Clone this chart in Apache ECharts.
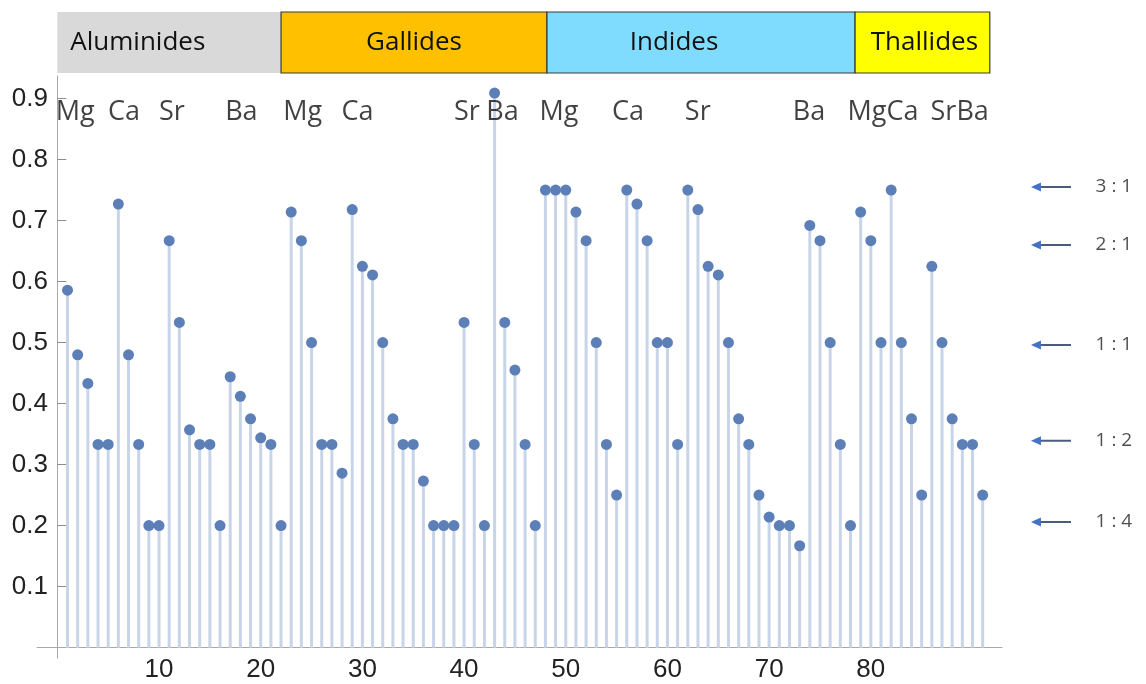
<!DOCTYPE html>
<html>
<head>
<meta charset="utf-8">
<script src="https://cdn.jsdelivr.net/npm/echarts@6/dist/echarts.min.js"></script>
<style>
html,body{margin:0;padding:0;background:#fff;}
#chart{width:1146px;height:684px;}
</style>
</head>
<body>
<div id="chart"></div>
<script>
// ---- data ----
const ratioValues = [
  0.586, 0.48, 0.433, 0.333, 0.333, 0.727, 0.48, 0.333, 0.2, 0.2,
  0.667, 0.533, 0.357, 0.333, 0.333, 0.2, 0.444, 0.412, 0.375, 0.344,
  0.333, 0.2, 0.714, 0.667, 0.5, 0.333, 0.333, 0.286, 0.718, 0.625,
  0.611, 0.5, 0.375, 0.333, 0.333, 0.273, 0.2, 0.2, 0.2, 0.533,
  0.333, 0.2, 0.909, 0.533, 0.455, 0.333, 0.2, 0.75, 0.75, 0.75,
  0.714, 0.667, 0.5, 0.333, 0.25, 0.75, 0.727, 0.667, 0.5, 0.5,
  0.333, 0.75, 0.718, 0.625, 0.611, 0.5, 0.375, 0.333, 0.25, 0.214,
  0.2, 0.2, 0.167, 0.692, 0.667, 0.5, 0.333, 0.2, 0.714, 0.667,
  0.5, 0.75, 0.5, 0.375, 0.25, 0.625, 0.5, 0.375, 0.333, 0.333,
  0.25
];
const xTickValues = [10, 20, 30, 40, 50, 60, 70, 80];
const yTickValues = [0.1, 0.2, 0.3, 0.4, 0.5, 0.6, 0.7, 0.8, 0.9];

const familyNames = ['Aluminides', 'Gallides', 'Indides', 'Thallides'];
const familyStart = [0, 22, 48.15, 78.45];
const familyEnd = [22, 48.15, 78.45, 91.7];

const elementNames = ['Mg', 'Ca', 'Sr', 'Ba', 'Mg', 'Ca', 'Sr', 'Ba', 'Mg', 'Ca', 'Sr', 'Ba', 'MgCa', 'SrBa'];
const elementX = [1.75, 6.55, 11.26, 18.1, 24.12, 29.53, 40.27, 43.77, 49.34, 56.13, 62.98, 73.92, 81.2, 88.74];
const elementY = 0.877;

const ratioNames = ['3 : 1', '2 : 1', '1 : 1', '1 : 2', '1 : 4'];
const ratioLevels = [0.755, 0.66, 0.496, 0.339, 0.206];

// ---- styles ----
const familyColors = ['#d9d9d9', '#ffc000', '#80dcff', '#ffff00'];
const familyBorders = [null, '#3a3a3a', '#3a3a3a', '#3a3a3a'];
const familyLabelPos = ['insideLeft', 'inside', 'inside', 'inside'];
const familyLabelOffset = [[8, 0], [0, 0], [-27, 0], [2, 0]];

const X_MIN = -2, X_MAX = 92.9, Y_MIN = -0.017, Y_MAX = 0.937;
const textFont = '"Open Sans", "Noto Sans", sans-serif';
const tickFont = '"Liberation Sans", Arial, sans-serif';

const points = ratioValues.map((v, i) => [i + 1, v]);

const chart = echarts.init(document.getElementById('chart'), null, {renderer: 'canvas'});
chart.setOption({
  animation: false,
  backgroundColor: '#ffffff',
  grid: [
    {left: 37, right: 144, top: 76, bottom: 26, containLabel: false, outerBoundsMode: 'none'},
    {left: 37, right: 144, top: 12, height: 61, containLabel: false, outerBoundsMode: 'none'},
    {left: 1020, right: 0, top: 76, bottom: 26, containLabel: false, outerBoundsMode: 'none'}
  ],
  xAxis: [
    {
      type: 'value', gridIndex: 0, min: X_MIN, max: X_MAX,
      splitLine: {show: false},
      axisLine: {show: true, onZero: true, lineStyle: {color: '#a8a8a8', width: 1}},
      axisTick: {show: true, inside: true, length: 9, customValues: xTickValues, lineStyle: {color: '#8c8c8c'}},
      axisLabel: {show: true, customValues: xTickValues, margin: -1, color: '#222', fontSize: 26, fontFamily: tickFont}
    },
    {type: 'value', gridIndex: 1, min: X_MIN, max: X_MAX, show: false},
    {type: 'value', gridIndex: 2, min: 0, max: 1, show: false}
  ],
  yAxis: [
    {
      type: 'value', gridIndex: 0, min: Y_MIN, max: Y_MAX,
      splitLine: {show: false},
      axisLine: {show: true, onZero: true, lineStyle: {color: '#a8a8a8', width: 1}},
      axisTick: {show: true, inside: true, length: 9, customValues: yTickValues, lineStyle: {color: '#8c8c8c'}},
      axisLabel: {show: true, customValues: yTickValues, margin: -11, color: '#222', fontSize: 26, fontFamily: tickFont,
        formatter: v => v.toFixed(1)}
    },
    {type: 'value', gridIndex: 1, min: 0, max: 1, show: false},
    {type: 'value', gridIndex: 2, min: Y_MIN, max: Y_MAX, show: false}
  ],
  series: [
    {
      type: 'bar', xAxisIndex: 0, yAxisIndex: 0,
      data: points, barWidth: 3, silent: true,
      itemStyle: {color: '#c8d5e8'}
    },
    {
      type: 'scatter', xAxisIndex: 0, yAxisIndex: 0,
      data: points, symbolSize: 11, silent: true,
      itemStyle: {color: '#5b7fb6', opacity: 1}
    },
    {
      type: 'scatter', xAxisIndex: 0, yAxisIndex: 0,
      symbolSize: 0, silent: true,
      data: elementNames.map((n, i) => ({name: n, value: [elementX[i], elementY]})),
      label: {show: true, position: 'inside', formatter: p => p.name, color: '#111', fontSize: 27, fontFamily: textFont}
    },
    {
      type: 'scatter', xAxisIndex: 1, yAxisIndex: 1, data: [], silent: true,
      markArea: {
        silent: true,
        data: familyNames.map((n, i) => [
          {
            name: n, xAxis: familyStart[i],
            itemStyle: {color: familyColors[i], borderColor: familyBorders[i] || familyColors[i], borderWidth: familyBorders[i] ? 1.2 : 0},
            label: {show: true, position: familyLabelPos[i], offset: familyLabelOffset[i], color: '#111', fontSize: 26, fontFamily: textFont}
          },
          {xAxis: familyEnd[i]}
        ])
      }
    },
    {
      type: 'scatter', xAxisIndex: 2, yAxisIndex: 2, silent: true,
      symbolSize: 0,
      data: ratioNames.map((n, i) => ({name: n, value: [0.6, ratioLevels[i]]})),
      label: {show: true, position: 'inside', align: 'left', formatter: p => p.name, color: '#222', fontSize: 19, fontFamily: textFont}
    },
    {
      type: 'custom', xAxisIndex: 2, yAxisIndex: 2, silent: true,
      data: ratioLevels.map(y => [0.087, 0.405, y]),
      renderItem: function (params, api) {
        const h = api.coord([api.value(0), api.value(2)]);
        const t = api.coord([api.value(1), api.value(2)]);
        return {
          type: 'group',
          children: [
            {type: 'line', shape: {x1: h[0] + 8, y1: h[1], x2: t[0], y2: t[1]}, style: {stroke: '#4b5d78', lineWidth: 2}},
            {type: 'polygon', shape: {points: [[h[0], h[1]], [h[0] + 10, h[1] - 4.5], [h[0] + 10, h[1] + 4.5]]}, style: {fill: '#4472c4'}}
          ]
        };
      }
    }
  ]
});
</script>
</body>
</html>
